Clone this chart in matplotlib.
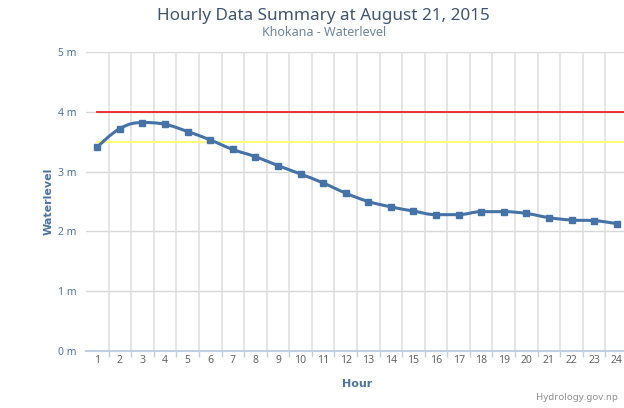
import numpy as np
import matplotlib
matplotlib.use('Agg')
import matplotlib.pyplot as plt
from matplotlib.path import Path
from matplotlib.patches import PathPatch

hours = list(range(1, 25))
level = [3.41, 3.72, 3.82, 3.79, 3.67, 3.53, 3.37, 3.25, 3.10, 2.96, 2.81, 2.64,
         2.50, 2.41, 2.34, 2.28, 2.28, 2.33, 2.33, 2.30, 2.23, 2.19, 2.18, 2.13]
danger = 4.0
warning = 3.5
y_ticks = [0, 1, 2, 3, 4, 5]

title = 'Hourly Data Summary at August 21, 2015'
subtitle = 'Khokana - Waterlevel'


def spline_path(xs, ys, smoothing=1.5):
    # highcharts-like spline control points
    denom = smoothing + 1
    n = len(xs)
    left = [None] * n
    right = [None] * n
    for i in range(n):
        x, y = xs[i], ys[i]
        if i == 0 or i == n - 1:
            left[i] = (x, y)
            right[i] = (x, y)
            continue
        lx, ly = xs[i - 1], ys[i - 1]
        nx, ny = xs[i + 1], ys[i + 1]
        lcx = (smoothing * x + lx) / denom
        lcy = (smoothing * y + ly) / denom
        rcx = (smoothing * x + nx) / denom
        rcy = (smoothing * y + ny) / denom
        if rcx != lcx:
            corr = ((rcy - lcy) * (rcx - x)) / (rcx - lcx) + y - rcy
            lcy += corr
            rcy += corr
        if lcy > ly and lcy > y:
            lcy = max(ly, y)
            rcy = 2 * y - lcy
        elif lcy < ly and lcy < y:
            lcy = min(ly, y)
            rcy = 2 * y - lcy
        if rcy > ny and rcy > y:
            rcy = max(ny, y)
            lcy = 2 * y - rcy
        elif rcy < ny and rcy < y:
            rcy = min(ny, y)
            lcy = 2 * y - rcy
        left[i] = (lcx, lcy)
        right[i] = (rcx, rcy)
    verts = [(xs[0], ys[0])]
    codes = [Path.MOVETO]
    for i in range(1, n):
        verts += [right[i - 1], left[i], (xs[i], ys[i])]
        codes += [Path.CURVE4] * 3
    return Path(verts, codes)


plt.rcParams['font.family'] = ['Noto Sans', 'DejaVu Sans']

fig = plt.figure(figsize=(6.24, 4.08), dpi=100)
ax = fig.add_axes([86 / 624, 57 / 408, 542 / 624, 299 / 408])

ax.set_xlim(0.5, 24.5)
ax.set_ylim(0, 5)

for v in y_ticks[1:]:
    ax.axhline(v, color='#d8d8d8', lw=1, zorder=1)
for b in np.arange(1.5, 24.5, 1):
    ax.axvline(b, color='#e0e0e0', lw=1.2, zorder=1)

ax.plot([hours[0], 24.5], [danger, danger], color='#ee2222', lw=1.3, zorder=2)
ax.plot([hours[0], 24.5], [warning, warning], color='#ffff66', lw=1.3, zorder=2)

ax.add_patch(PathPatch(spline_path(hours, level), fill=False, edgecolor='#4572a7',
                       lw=2.2, zorder=3, capstyle='round'))
ax.plot(hours, level, ls='none', marker='s', ms=5, color='#4572a7', zorder=4)

for s in ['top', 'right', 'left']:
    ax.spines[s].set_visible(False)
ax.spines['bottom'].set_color('#c0d0e0')
ax.spines['bottom'].set_linewidth(1.5)

ax.set_yticks(y_ticks)
ax.set_yticklabels([f'{v} m' for v in y_ticks], color='#4d759e', fontsize=7.5)
ax.tick_params(axis='y', length=0, pad=7)
ax.set_xticks(hours)
ax.set_xticklabels([str(h) for h in hours], color='#666666', fontsize=7.5)
ax.set_xticks(np.arange(1.5, 24.5, 1), minor=True)
ax.tick_params(axis='x', which='major', length=0, pad=3)
ax.tick_params(axis='x', which='minor', length=4, color='#c0d0e0', width=1)

ax.set_ylabel('Waterlevel', color='#4d759e', fontsize=8, fontweight='bold',
              family='DejaVu Sans', labelpad=3)
ax.set_xlabel('Hour', color='#4d759e', fontsize=8, fontweight='bold',
              family='DejaVu Sans', labelpad=9)

fig.text(323 / 624, 1 - 16.5 / 408, title, ha='center', va='center', color='#3e576f', fontsize=12.3)
fig.text(324 / 624, 1 - 33 / 408, subtitle, ha='center', va='center', color='#6d869f', fontsize=9)
fig.text(618 / 624, 1 - 398 / 408, 'Hydrology.gov.np', ha='right', va='center',
         color='#909090', fontsize=7)

fig.savefig('out.png', dpi=100)
